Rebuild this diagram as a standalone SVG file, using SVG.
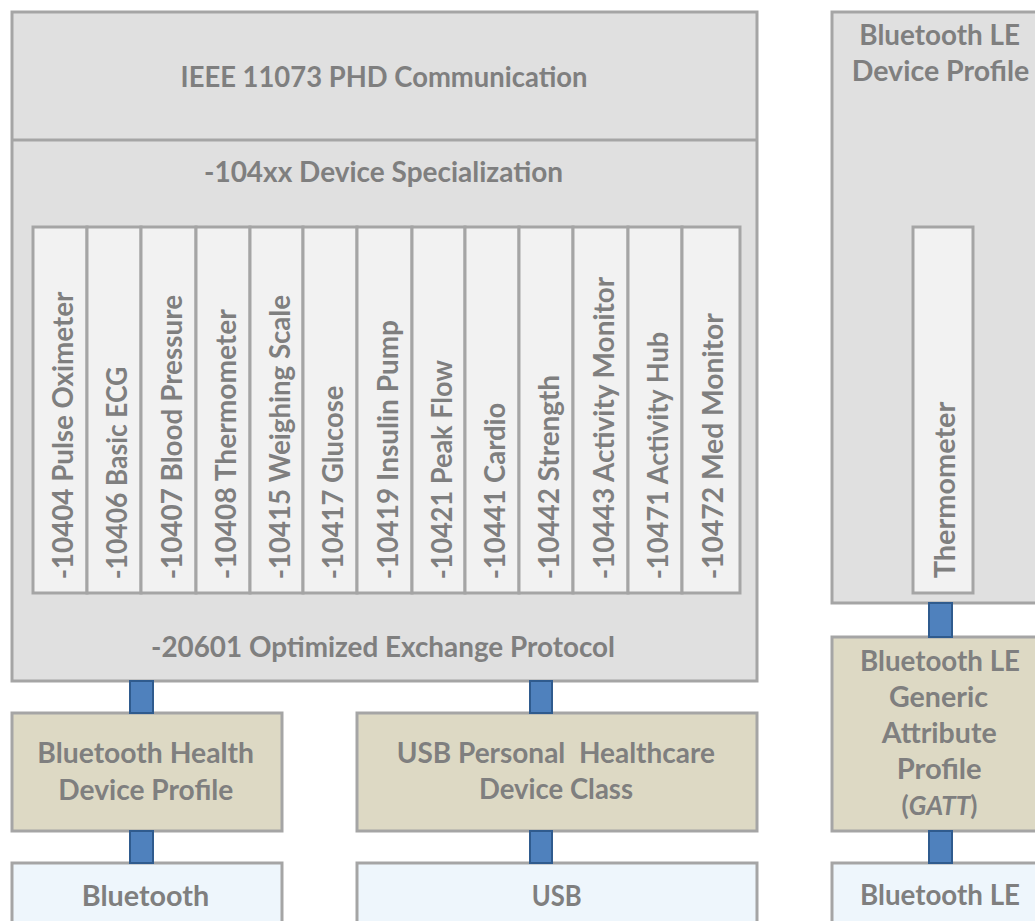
<svg xmlns="http://www.w3.org/2000/svg" width="1035" height="921" viewBox="0 0 1035 921">
<style>
text{font-family:Lato,"Liberation Sans",sans-serif;font-size:28px;font-weight:700;fill:#7f7f7f;}
.c{text-anchor:middle;}
.v{text-anchor:start;}
.gray{fill:#e0e0e0;stroke:#a5a5a5;stroke-width:3;}
.col{fill:#f2f2f2;stroke:#a5a5a5;stroke-width:3;}
.tan{fill:#ddd9c4;stroke:#a5a5a5;stroke-width:3;}
.blue{fill:#eef6fc;stroke:#a5a5a5;stroke-width:3;}
.conn{fill:#4f81bd;stroke:#2f5b8e;stroke-width:2;}
.div{stroke:#a5a5a5;stroke-width:3;fill:none;}
</style>
<rect width="1035" height="921" fill="#ffffff"/>

<g id="phd">
<rect class="gray" x="12" y="12" width="745" height="669"/>
<line class="div" x1="12" y1="140" x2="757" y2="140"/>
<text class="c" x="384" y="86.5" textLength="407" lengthAdjust="spacingAndGlyphs">IEEE 11073 PHD Communication</text>
<text class="c" x="383.5" y="181.5" textLength="359" lengthAdjust="spacingAndGlyphs">-104xx Device Specialization</text>
<text class="c" x="383" y="657" textLength="464" lengthAdjust="spacingAndGlyphs">-20601 Optimized Exchange Protocol</text>
</g>

<g id="col-10404"><rect class="col" x="33" y="227" width="54" height="366"/><text class="v" transform="translate(73,579.3) rotate(-90)" textLength="287.6" lengthAdjust="spacingAndGlyphs">-10404 Pulse Oximeter</text></g>
<g id="col-10406"><rect class="col" x="87" y="227" width="54" height="366"/><text class="v" transform="translate(127,579.3) rotate(-90)" textLength="212.6" lengthAdjust="spacingAndGlyphs">-10406 Basic ECG</text></g>
<g id="col-10407"><rect class="col" x="141" y="227" width="55" height="366"/><text class="v" transform="translate(181.5,579.3) rotate(-90)" textLength="284.3" lengthAdjust="spacingAndGlyphs">-10407 Blood Pressure</text></g>
<g id="col-10408"><rect class="col" x="196" y="227" width="54" height="366"/><text class="v" transform="translate(236,579.3) rotate(-90)" textLength="270" lengthAdjust="spacingAndGlyphs">-10408 Thermometer</text></g>
<g id="col-10415"><rect class="col" x="250" y="227" width="53" height="366"/><text class="v" transform="translate(289.5,579.3) rotate(-90)" textLength="284.3" lengthAdjust="spacingAndGlyphs">-10415 Weighing Scale</text></g>
<g id="col-10417"><rect class="col" x="303" y="227" width="54" height="366"/><text class="v" transform="translate(343,579.3) rotate(-90)" textLength="193.6" lengthAdjust="spacingAndGlyphs">-10417 Glucose</text></g>
<g id="col-10419"><rect class="col" x="357" y="227" width="55" height="366"/><text class="v" transform="translate(397.5,579.3) rotate(-90)" textLength="259.3" lengthAdjust="spacingAndGlyphs">-10419 Insulin Pump</text></g>
<g id="col-10421"><rect class="col" x="412" y="227" width="53" height="366"/><text class="v" transform="translate(451.5,579.3) rotate(-90)" textLength="219.3" lengthAdjust="spacingAndGlyphs">-10421 Peak Flow</text></g>
<g id="col-10441"><rect class="col" x="465" y="227" width="54" height="366"/><text class="v" transform="translate(505,579.3) rotate(-90)" textLength="176.6" lengthAdjust="spacingAndGlyphs">-10441 Cardio</text></g>
<g id="col-10442"><rect class="col" x="519" y="227" width="54" height="366"/><text class="v" transform="translate(559,579.3) rotate(-90)" textLength="204.3" lengthAdjust="spacingAndGlyphs">-10442 Strength</text></g>
<g id="col-10443"><rect class="col" x="573" y="227" width="55" height="366"/><text class="v" transform="translate(613.5,579.3) rotate(-90)" textLength="302.6" lengthAdjust="spacingAndGlyphs">-10443 Activity Monitor</text></g>
<g id="col-10471"><rect class="col" x="628" y="227" width="54" height="366"/><text class="v" transform="translate(668,579.3) rotate(-90)" textLength="247.6" lengthAdjust="spacingAndGlyphs">-10471 Activity Hub</text></g>
<g id="col-10472"><rect class="col" x="682" y="227" width="58" height="366"/><text class="v" transform="translate(723,579.3) rotate(-90)" textLength="266" lengthAdjust="spacingAndGlyphs">-10472 Med Monitor</text></g>

<g id="ble-profile">
<rect class="gray" x="832" y="12" width="220" height="591"/>
<text class="c" x="939.7" y="45" textLength="160.7" lengthAdjust="spacingAndGlyphs">Bluetooth LE</text>
<text class="c" x="940.5" y="81" textLength="177.6" lengthAdjust="spacingAndGlyphs">Device Profile</text>
</g>
<g id="ble-thermometer">
<rect class="col" x="913" y="227" width="60" height="366"/>
<text class="v" transform="translate(955,578.3) rotate(-90)" textLength="176.6" lengthAdjust="spacingAndGlyphs">Thermometer</text>
</g>

<g id="bt-hdp">
<rect class="tan" x="12" y="713" width="270" height="118"/>
<text class="c" x="145.7" y="763.3" textLength="216.7" lengthAdjust="spacingAndGlyphs">Bluetooth Health</text>
<text class="c" x="145.8" y="800" textLength="175" lengthAdjust="spacingAndGlyphs">Device Profile</text>
</g>
<g id="usb-phdc">
<rect class="tan" x="357" y="713" width="400" height="118"/>
<text class="c" x="555.8" y="763.3" textLength="318.3" lengthAdjust="spacingAndGlyphs" xml:space="preserve">USB Personal  Healthcare</text>
<text class="c" x="556" y="799.3" textLength="154" lengthAdjust="spacingAndGlyphs">Device Class</text>
</g>
<g id="ble-gatt">
<rect class="tan" x="832" y="637" width="220" height="194"/>
<text class="c" x="940" y="670.7" textLength="160" lengthAdjust="spacingAndGlyphs">Bluetooth LE</text>
<text class="c" x="938.5" y="706.7" textLength="99" lengthAdjust="spacingAndGlyphs">Generic</text>
<text class="c" x="939.2" y="743.3" textLength="115" lengthAdjust="spacingAndGlyphs">Attribute</text>
<text class="c" x="939.2" y="779.3" textLength="85" lengthAdjust="spacingAndGlyphs">Profile</text>
<text class="c" x="939.5" y="815" style="font-size:26px">(<tspan font-style="italic">GATT</tspan>)</text>
</g>

<g id="bluetooth">
<rect class="blue" x="12" y="863" width="270" height="80"/>
<text class="c" x="145.5" y="906" textLength="127.6" lengthAdjust="spacingAndGlyphs">Bluetooth</text>
</g>
<g id="usb">
<rect class="blue" x="357" y="863" width="400" height="80"/>
<text class="c" x="556.7" y="906" textLength="50" lengthAdjust="spacingAndGlyphs">USB</text>
</g>
<g id="bluetooth-le">
<rect class="blue" x="832" y="863" width="220" height="80"/>
<text class="c" x="940" y="905" textLength="160" lengthAdjust="spacingAndGlyphs">Bluetooth LE</text>
</g>

<g id="connectors">
<rect class="conn" x="130" y="681" width="23" height="32"/>
<rect class="conn" x="530" y="681" width="22" height="32"/>
<rect class="conn" x="130" y="831" width="23" height="32"/>
<rect class="conn" x="530" y="831" width="22" height="32"/>
<rect class="conn" x="929" y="603" width="23" height="34"/>
<rect class="conn" x="929" y="831" width="23" height="32"/>
</g>
</svg>
